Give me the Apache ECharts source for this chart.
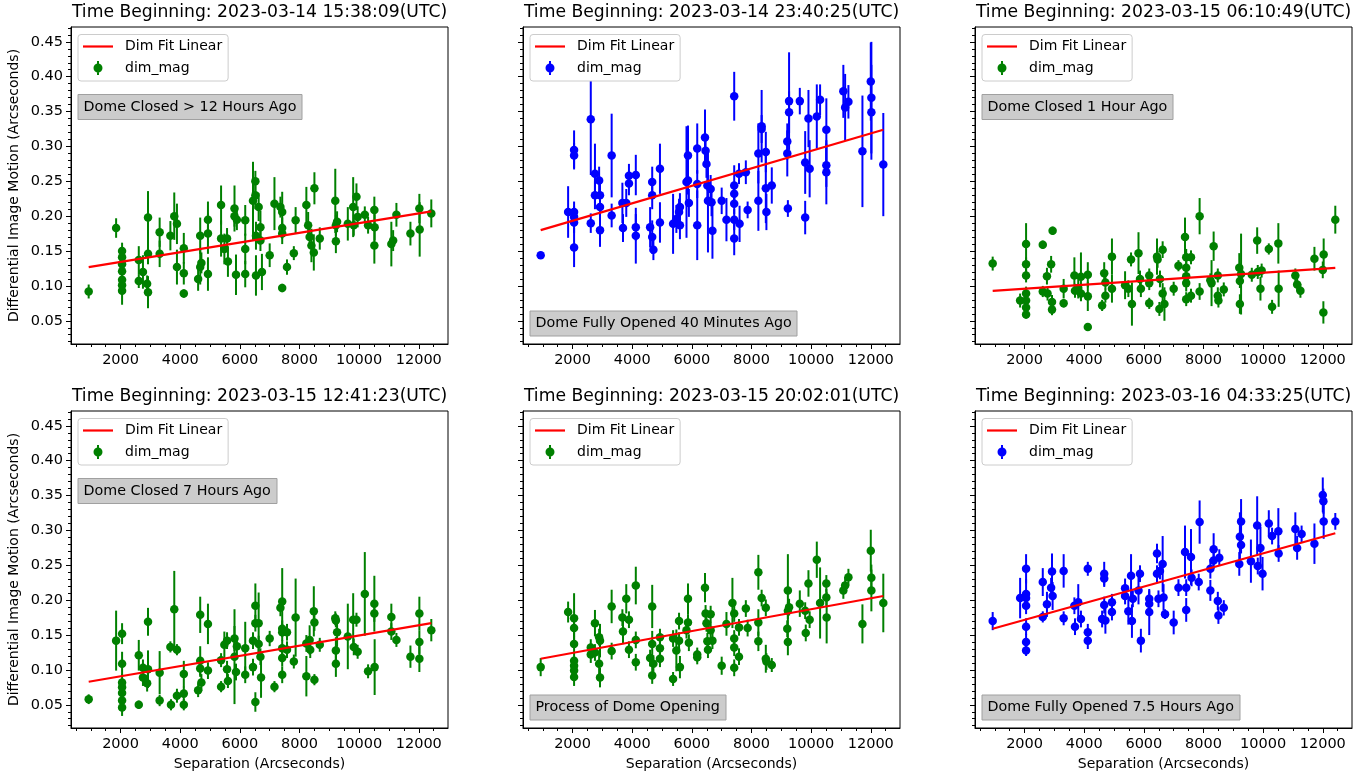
<!DOCTYPE html>
<html>
<head>
<meta charset="utf-8">
<title>Differential Image Motion</title>
<script src="https://cdn.jsdelivr.net/npm/echarts/dist/echarts.min.js"></script>
<style>
  html, body { margin: 0; padding: 0; background: #fff; }
  #main { width: 1370px; height: 776px; }
</style>
</head>
<body>
<div id="main"></div>
<script>
// each point: [separation (arcsec), dim (arcsec), error]
const panel1 = [[930,0.092,0.010],[1850,0.183,0.014],[2050,0.150,0.012],[2050,0.141,0.012],[2050,0.131,0.012],[2050,0.121,0.012],[2050,0.109,0.012],[2050,0.101,0.012],[2050,0.093,0.020],[2610,0.137,0.020],[2610,0.107,0.010],[2750,0.120,0.024],[2890,0.103,0.012],[2920,0.198,0.038],[2920,0.146,0.015],[2920,0.091,0.023],[3310,0.177,0.021],[3310,0.146,0.019],[3670,0.172,0.021],[3800,0.200,0.034],[3890,0.189,0.029],[3890,0.127,0.025],[4120,0.154,0.022],[4120,0.118,0.016],[4120,0.089,0.006],[4600,0.110,0.017],[4670,0.172,0.026],[4670,0.127,0.025],[4710,0.133,0.015],[4930,0.195,0.026],[4930,0.175,0.029],[4930,0.117,0.024],[5370,0.216,0.028],[5370,0.168,0.026],[5480,0.153,0.022],[5570,0.168,0.015],[5600,0.135,0.022],[5820,0.211,0.033],[5820,0.200,0.015],[5870,0.116,0.029],[5900,0.195,0.015],[6180,0.194,0.022],[6180,0.153,0.022],[6180,0.117,0.019],[6440,0.222,0.056],[6520,0.250,0.015],[6520,0.230,0.020],[6540,0.172,0.020],[6540,0.115,0.029],[6630,0.213,0.020],[6690,0.184,0.024],[6690,0.165,0.015],[6740,0.120,0.026],[7000,0.144,0.017],[7160,0.218,0.038],[7360,0.213,0.015],[7420,0.206,0.029],[7420,0.183,0.015],[7420,0.175,0.015],[7420,0.097,0.006],[7580,0.127,0.011],[7810,0.147,0.010],[7870,0.194,0.019],[8230,0.216,0.026],[8290,0.187,0.019],[8340,0.170,0.015],[8400,0.158,0.024],[8480,0.148,0.026],[8500,0.240,0.023],[8680,0.168,0.016],[9200,0.222,0.046],[9220,0.187,0.015],[9220,0.164,0.017],[9260,0.192,0.015],[9620,0.189,0.024],[9800,0.213,0.043],[9820,0.187,0.015],[9910,0.228,0.019],[9950,0.199,0.015],[10190,0.202,0.012],[10300,0.187,0.012],[10510,0.209,0.019],[10520,0.184,0.019],[10510,0.158,0.026],[11080,0.160,0.032],[11140,0.165,0.015],[11250,0.202,0.017],[11720,0.175,0.017],[12020,0.211,0.021],[12030,0.181,0.039],[12420,0.204,0.020]];
const panel2 = [[930,0.144,0.004],[1850,0.206,0.037],[2050,0.295,0.028],[2050,0.287,0.018],[2050,0.206,0.015],[2050,0.199,0.015],[2050,0.191,0.015],[2050,0.155,0.028],[2610,0.339,0.080],[2610,0.190,0.014],[2750,0.261,0.043],[2750,0.230,0.020],[2890,0.251,0.020],[2920,0.230,0.020],[2920,0.213,0.020],[2920,0.180,0.024],[3310,0.287,0.060],[3310,0.201,0.017],[3670,0.219,0.029],[3690,0.183,0.020],[3800,0.219,0.020],[3890,0.258,0.017],[3890,0.247,0.017],[4120,0.259,0.029],[4120,0.184,0.019],[4120,0.172,0.040],[4600,0.184,0.029],[4670,0.249,0.022],[4670,0.230,0.020],[4670,0.170,0.024],[4710,0.152,0.015],[4930,0.268,0.036],[4930,0.191,0.029],[5370,0.189,0.043],[5480,0.196,0.020],[5570,0.206,0.019],[5600,0.187,0.020],[5600,0.213,0.020],[5820,0.249,0.080],[5870,0.287,0.043],[5870,0.251,0.020],[5900,0.219,0.020],[6180,0.297,0.036],[6180,0.246,0.020],[6180,0.187,0.050],[6440,0.313,0.040],[6460,0.294,0.020],[6490,0.275,0.020],[6520,0.244,0.020],[6540,0.222,0.074],[6630,0.239,0.020],[6660,0.220,0.020],[6690,0.179,0.040],[7000,0.222,0.019],[7160,0.195,0.031],[7420,0.372,0.035],[7420,0.244,0.029],[7420,0.232,0.015],[7420,0.218,0.015],[7420,0.195,0.015],[7420,0.168,0.024],[7580,0.261,0.015],[7600,0.189,0.026],[7810,0.263,0.017],[7870,0.209,0.012],[8230,0.290,0.043],[8230,0.222,0.043],[8340,0.329,0.052],[8340,0.325,0.020],[8480,0.292,0.029],[8480,0.240,0.050],[8500,0.206,0.026],[8680,0.244,0.026],[9200,0.290,0.033],[9200,0.307,0.026],[9220,0.211,0.012],[9260,0.365,0.070],[9260,0.349,0.030],[9620,0.365,0.019],[9800,0.277,0.045],[9800,0.198,0.024],[9910,0.340,0.041],[9950,0.268,0.041],[10190,0.343,0.046],[10300,0.367,0.022],[10510,0.324,0.045],[10510,0.273,0.031],[10510,0.263,0.046],[11080,0.379,0.038],[11140,0.356,0.048],[11250,0.364,0.024],[11720,0.293,0.080],[12000,0.393,0.056],[12020,0.370,0.080],[12020,0.349,0.068],[12420,0.274,0.074]];
const panel3 = [[930,0.132,0.010],[1850,0.079,0.010],[2050,0.160,0.030],[2050,0.131,0.010],[2050,0.115,0.010],[2050,0.089,0.010],[2050,0.079,0.008],[2050,0.069,0.008],[2050,0.059,0.006],[2610,0.159,0.006],[2610,0.092,0.008],[2750,0.114,0.012],[2770,0.089,0.010],[2890,0.131,0.012],[2920,0.077,0.010],[2920,0.066,0.008],[2940,0.179,0.006],[3310,0.096,0.014],[3310,0.075,0.006],[3670,0.115,0.026],[3690,0.093,0.010],[3800,0.097,0.015],[3890,0.113,0.035],[3890,0.089,0.010],[4120,0.116,0.018],[4120,0.085,0.021],[4120,0.041,0.005],[4600,0.072,0.008],[4670,0.118,0.016],[4710,0.086,0.010],[4710,0.105,0.010],[4930,0.096,0.020],[4930,0.142,0.026],[5370,0.101,0.020],[5480,0.096,0.012],[5570,0.138,0.010],[5600,0.074,0.031],[5820,0.147,0.030],[5870,0.110,0.012],[5900,0.096,0.012],[6180,0.115,0.010],[6180,0.104,0.010],[6180,0.075,0.008],[6440,0.142,0.026],[6460,0.138,0.012],[6520,0.067,0.010],[6540,0.110,0.012],[6630,0.152,0.012],[6630,0.089,0.015],[6690,0.074,0.024],[7000,0.096,0.010],[7160,0.129,0.008],[7380,0.170,0.028],[7420,0.141,0.012],[7420,0.126,0.012],[7420,0.114,0.012],[7420,0.104,0.012],[7420,0.081,0.010],[7580,0.141,0.010],[7580,0.086,0.010],[7870,0.200,0.026],[7870,0.092,0.012],[8230,0.108,0.010],[8270,0.104,0.033],[8340,0.157,0.021],[8480,0.115,0.010],[8480,0.086,0.012],[8500,0.079,0.010],[8680,0.095,0.010],[9200,0.126,0.021],[9220,0.107,0.010],[9220,0.074,0.014],[9260,0.117,0.058],[9620,0.116,0.010],[9800,0.165,0.019],[9820,0.120,0.010],[9910,0.096,0.017],[9950,0.122,0.010],[10190,0.153,0.008],[10300,0.070,0.010],[10510,0.161,0.029],[10520,0.096,0.026],[11080,0.115,0.010],[11140,0.102,0.010],[11250,0.093,0.010],[11720,0.139,0.017],[12030,0.145,0.023],[12000,0.123,0.012],[12020,0.062,0.016],[12420,0.195,0.020]];
const panel4 = [[930,0.058,0.007],[1850,0.142,0.043],[2050,0.152,0.015],[2050,0.109,0.017],[2050,0.082,0.012],[2050,0.075,0.012],[2050,0.067,0.012],[2050,0.056,0.012],[2050,0.046,0.012],[2610,0.121,0.022],[2610,0.050,0.006],[2750,0.103,0.012],[2750,0.089,0.012],[2890,0.081,0.012],[2920,0.169,0.020],[2920,0.101,0.027],[3310,0.096,0.031],[3310,0.056,0.008],[3670,0.133,0.008],[3690,0.050,0.008],[3800,0.187,0.055],[3890,0.129,0.008],[3890,0.063,0.010],[4120,0.094,0.019],[4120,0.066,0.010],[4120,0.050,0.008],[4600,0.071,0.010],[4670,0.179,0.026],[4670,0.113,0.021],[4670,0.102,0.012],[4710,0.082,0.012],[4930,0.166,0.029],[4930,0.099,0.012],[5370,0.076,0.008],[5370,0.114,0.010],[5480,0.136,0.019],[5570,0.142,0.012],[5570,0.101,0.012],[5600,0.084,0.010],[5820,0.145,0.018],[5820,0.119,0.068],[5870,0.097,0.012],[5900,0.134,0.012],[6180,0.131,0.038],[6180,0.093,0.012],[6440,0.142,0.012],[6440,0.104,0.012],[6520,0.192,0.032],[6520,0.167,0.012],[6520,0.054,0.014],[6630,0.167,0.044],[6630,0.137,0.012],[6690,0.119,0.012],[6710,0.089,0.029],[7000,0.145,0.011],[7160,0.076,0.008],[7360,0.189,0.012],[7420,0.198,0.048],[7420,0.159,0.012],[7420,0.154,0.012],[7420,0.131,0.012],[7420,0.117,0.012],[7420,0.093,0.012],[7580,0.154,0.012],[7580,0.129,0.012],[7810,0.112,0.010],[7870,0.175,0.056],[8230,0.138,0.012],[8230,0.091,0.029],[8340,0.143,0.021],[8360,0.129,0.012],[8480,0.184,0.036],[8500,0.168,0.012],[8500,0.086,0.008],[8680,0.136,0.010],[9200,0.174,0.010],[9220,0.171,0.010],[9260,0.154,0.021],[9220,0.128,0.019],[9220,0.109,0.019],[9620,0.148,0.047],[9800,0.172,0.038],[9820,0.133,0.012],[9910,0.172,0.010],[9950,0.126,0.010],[10190,0.209,0.060],[10300,0.098,0.010],[10510,0.195,0.040],[10510,0.181,0.012],[10520,0.104,0.040],[11080,0.176,0.019],[11080,0.155,0.012],[11250,0.143,0.010],[11720,0.119,0.016],[12020,0.181,0.024],[12020,0.140,0.017],[12020,0.116,0.019],[12420,0.157,0.016]];
const panel5 = [[930,0.104,0.013],[1850,0.183,0.015],[2050,0.174,0.036],[2050,0.160,0.012],[2050,0.137,0.012],[2050,0.113,0.012],[2050,0.106,0.012],[2050,0.099,0.012],[2050,0.090,0.013],[2610,0.132,0.012],[2610,0.122,0.012],[2750,0.167,0.019],[2750,0.125,0.012],[2890,0.147,0.012],[2920,0.142,0.024],[2890,0.109,0.019],[2920,0.089,0.014],[3310,0.191,0.024],[3310,0.127,0.012],[3670,0.175,0.012],[3690,0.155,0.018],[3800,0.202,0.021],[3890,0.172,0.012],[3890,0.129,0.012],[4120,0.221,0.027],[4120,0.143,0.012],[4120,0.111,0.012],[4600,0.117,0.012],[4670,0.191,0.031],[4670,0.137,0.019],[4670,0.092,0.012],[4710,0.109,0.012],[4930,0.147,0.012],[4930,0.131,0.012],[4930,0.116,0.012],[5370,0.087,0.010],[5370,0.145,0.012],[5480,0.128,0.030],[5570,0.170,0.012],[5570,0.142,0.012],[5600,0.104,0.016],[5820,0.157,0.012],[5870,0.202,0.022],[5870,0.168,0.012],[5900,0.139,0.012],[6180,0.122,0.010],[6180,0.118,0.010],[6440,0.218,0.021],[6460,0.181,0.012],[6490,0.167,0.012],[6520,0.141,0.012],[6540,0.129,0.012],[6630,0.180,0.012],[6630,0.157,0.012],[6690,0.142,0.012],[7000,0.106,0.013],[7160,0.166,0.017],[7360,0.196,0.036],[7420,0.181,0.012],[7420,0.145,0.012],[7420,0.132,0.012],[7420,0.103,0.012],[7580,0.119,0.012],[7580,0.161,0.012],[7810,0.188,0.012],[7870,0.160,0.012],[8230,0.240,0.025],[8230,0.168,0.019],[8230,0.141,0.014],[8340,0.203,0.012],[8480,0.189,0.012],[8480,0.116,0.020],[8500,0.112,0.012],[8680,0.107,0.010],[9200,0.159,0.012],[9220,0.214,0.052],[9220,0.185,0.012],[9220,0.140,0.019],[9260,0.190,0.012],[9620,0.195,0.019],[9800,0.185,0.012],[9820,0.153,0.012],[9910,0.224,0.019],[9950,0.172,0.012],[10190,0.258,0.026],[10300,0.196,0.051],[10510,0.224,0.012],[10510,0.204,0.012],[10520,0.175,0.037],[11080,0.214,0.012],[11140,0.221,0.012],[11250,0.233,0.012],[11720,0.166,0.028],[12000,0.271,0.030],[12020,0.232,0.019],[12020,0.214,0.030],[12420,0.196,0.042]];
const panel6 = [[930,0.170,0.013],[1850,0.203,0.029],[2050,0.245,0.021],[2050,0.209,0.021],[2050,0.203,0.012],[2050,0.192,0.012],[2050,0.162,0.012],[2050,0.140,0.012],[2050,0.128,0.008],[2610,0.226,0.020],[2610,0.176,0.008],[2750,0.194,0.018],[2890,0.218,0.014],[2920,0.241,0.026],[2940,0.206,0.020],[3310,0.242,0.024],[3310,0.174,0.010],[3670,0.192,0.012],[3690,0.162,0.012],[3800,0.197,0.026],[3890,0.173,0.012],[4120,0.245,0.010],[4120,0.154,0.012],[4120,0.142,0.012],[4600,0.173,0.012],[4670,0.238,0.017],[4670,0.231,0.012],[4670,0.193,0.012],[4710,0.171,0.019],[4930,0.197,0.012],[4930,0.183,0.012],[5370,0.217,0.014],[5370,0.206,0.012],[5480,0.184,0.019],[5570,0.235,0.031],[5600,0.170,0.024],[5630,0.202,0.012],[5820,0.214,0.020],[5870,0.238,0.012],[5900,0.142,0.017],[6180,0.202,0.012],[6180,0.195,0.012],[6180,0.183,0.033],[6440,0.267,0.014],[6440,0.238,0.012],[6490,0.202,0.012],[6540,0.242,0.012],[6630,0.252,0.040],[6660,0.204,0.019],[6710,0.180,0.007],[7000,0.168,0.017],[7160,0.218,0.012],[7380,0.269,0.038],[7420,0.218,0.012],[7420,0.186,0.017],[7580,0.262,0.040],[7600,0.232,0.012],[7840,0.226,0.012],[7870,0.312,0.031],[8230,0.245,0.014],[8230,0.214,0.015],[8340,0.273,0.023],[8340,0.257,0.012],[8480,0.199,0.013],[8500,0.178,0.012],[8530,0.261,0.012],[8680,0.189,0.011],[9200,0.252,0.017],[9220,0.291,0.035],[9260,0.313,0.032],[9260,0.279,0.012],[9590,0.256,0.031],[9800,0.307,0.042],[9820,0.249,0.012],[9910,0.275,0.030],[9980,0.238,0.024],[10190,0.310,0.019],[10300,0.292,0.012],[10510,0.299,0.033],[10520,0.267,0.012],[11080,0.302,0.024],[11140,0.275,0.017],[11290,0.295,0.012],[11720,0.281,0.029],[12000,0.351,0.025],[12020,0.342,0.018],[12030,0.313,0.025],[12420,0.313,0.012]];

// linear fit endpoints
const fit1 = [[930, 0.127], [12420, 0.207]];
const fit2 = [[930, 0.180], [12420, 0.324]];
const fit3 = [[930, 0.093], [12420, 0.126]];
const fit4 = [[930, 0.083], [12420, 0.167]];
const fit5 = [[930, 0.116], [12420, 0.206]];
const fit6 = [[930, 0.159], [12420, 0.296]];

const titles = [
  'Time Beginning: 2023-03-14 15:38:09(UTC)',
  'Time Beginning: 2023-03-14 23:40:25(UTC)',
  'Time Beginning: 2023-03-15 06:10:49(UTC)',
  'Time Beginning: 2023-03-15 12:41:23(UTC)',
  'Time Beginning: 2023-03-15 20:02:01(UTC)',
  'Time Beginning: 2023-03-16 04:33:25(UTC)'
];
const notes = [
  'Dome Closed > 12 Hours Ago',
  'Dome Fully Opened 40 Minutes Ago',
  'Dome Closed 1 Hour Ago',
  'Dome Closed 7 Hours Ago',
  'Process of Dome Opening',
  'Dome Fully Opened 7.5 Hours Ago'
];
const pointColors = ['green', 'blue', 'green', 'green', 'green', 'blue'];

const xMajorTicks = [2000, 4000, 6000, 8000, 10000, 12000];
const yMajorTicks = [0.05, 0.10, 0.15, 0.20, 0.25, 0.30, 0.35, 0.40, 0.45];
const xMinorTicks = [];
for (let v = 500; v <= 12500; v += 500) xMinorTicks.push(v);
const yMinorTicks = [];
for (let k = 2; k <= 47; k++) yMinorTicks.push(k / 100);

const panels = [panel1, panel2, panel3, panel4, panel5, panel6];
const fits = [fit1, fit2, fit3, fit4, fit5, fit6];

// layout
const colLeft = [71, 523, 975];
const rowTop = [27, 411];
const gridW = 377, gridH = 317;
const xMin = 337, xMax = 12980;
const yMin = 0.0167, yMax = 0.4713;
const noteAtBottom = [false, true, false, false, true, true];

const lineIcon = 'path://M0,0H30V2.2H0Z';
const dotIcon = 'path://M3.5,0H5.5V14H3.5Z M9,7A4.5,4.5 0 1,1 0,7A4.5,4.5 0 1,1 9,7Z';

let chartDom = document.getElementById('main');
let myChart = echarts.init(chartDom);

let grid = [], xAxis = [], yAxis = [], series = [], legend = [], title = [];

panels.forEach(function (pts, i) {
  const col = i % 3, row = Math.floor(i / 3);
  const left = colLeft[col], top = rowTop[row];
  const color = pointColors[i];

  grid.push({
    left: left, top: top, width: gridW, height: gridH,
    show: true, borderColor: '#000', borderWidth: 1
  });

  xAxis.push({
    type: 'value', gridIndex: i, min: xMin, max: xMax, position: 'bottom',
    axisLine: { show: true, lineStyle: { color: '#000', width: 1 } },
    axisTick: { show: true, customValues: xMajorTicks, length: 5, lineStyle: { color: '#000' } },
    axisLabel: {
      show: true, customValues: xMajorTicks, fontSize: 14.5, color: '#000', margin: 9,
      formatter: function (v) { return String(v); }
    },
    splitLine: { show: false },
    name: row === 1 ? 'Separation (Arcseconds)' : '',
    nameLocation: 'middle', nameGap: 29,
    nameTextStyle: { fontSize: 14, color: '#000' }
  });
  xAxis.push({
    type: 'value', gridIndex: i, min: xMin, max: xMax, position: 'bottom',
    axisLine: { show: false },
    axisTick: { show: true, customValues: xMinorTicks, length: 3, lineStyle: { color: '#000' } },
    axisLabel: { show: false },
    splitLine: { show: false }
  });

  yAxis.push({
    type: 'value', gridIndex: i, min: yMin, max: yMax, position: 'left',
    axisLine: { show: true, lineStyle: { color: '#000', width: 1 } },
    axisTick: { show: true, customValues: yMajorTicks, length: 5, lineStyle: { color: '#000' } },
    axisLabel: {
      show: col === 0, customValues: yMajorTicks, fontSize: 14.5, color: '#000', margin: 8,
      formatter: function (v) { return v.toFixed(2); }
    },
    splitLine: { show: false },
    name: col === 0 ? 'Differential Image Motion (Arcseconds)' : '',
    nameLocation: 'middle', nameGap: 50,
    nameTextStyle: { fontSize: 14, color: '#000' }
  });
  yAxis.push({
    type: 'value', gridIndex: i, min: yMin, max: yMax, position: 'left',
    axisLine: { show: false },
    axisTick: { show: true, customValues: yMinorTicks, length: 3, lineStyle: { color: '#000' } },
    axisLabel: { show: false },
    splitLine: { show: false }
  });

  // error bars
  series.push({
    type: 'custom', name: 'dim_mag',
    xAxisIndex: 2 * i, yAxisIndex: 2 * i,
    data: pts, encode: { x: 0, y: 1 }, z: 2, silent: true,
    renderItem: function (params, api) {
      const x = api.value(0), y = api.value(1), e = api.value(2);
      const p1 = api.coord([x, y + e]);
      const p2 = api.coord([x, y - e]);
      return {
        type: 'line',
        shape: { x1: p1[0], y1: p1[1], x2: p2[0], y2: p2[1] },
        style: { stroke: color, lineWidth: 2 }
      };
    }
  });
  series.push({
    type: 'scatter', name: 'dim_mag',
    xAxisIndex: 2 * i, yAxisIndex: 2 * i,
    data: pts.map(function (p) { return [p[0], p[1]]; }),
    symbolSize: 8.5, itemStyle: { color: color, opacity: 1 }, z: 3, silent: true
  });
  series.push({
    type: 'line', name: 'Dim Fit Linear',
    xAxisIndex: 2 * i, yAxisIndex: 2 * i,
    data: fits[i], symbol: 'none',
    lineStyle: { color: '#ff0000', width: 2.2 }, itemStyle: { color: '#ff0000' },
    z: 4, silent: true
  });

  legend.push({
    left: left + 7, top: top + 7.5, orient: 'vertical',
    backgroundColor: '#fff', borderColor: '#cccccc', borderWidth: 1, borderRadius: 3,
    padding: [5, 6, 6, 5], itemGap: 7.5, itemWidth: 30, itemHeight: 14,
    selectedMode: false,
    textStyle: { fontSize: 14, color: '#000', padding: [0, 0, 0, 7] },
    data: [
      { name: 'Dim Fit Linear', icon: lineIcon, itemStyle: { color: '#ff0000', borderWidth: 0 } },
      { name: 'dim_mag', icon: dotIcon, itemStyle: { color: color, borderWidth: 0 } }
    ]
  });

  title.push({
    text: titles[i], left: left + gridW / 2, textAlign: 'center',
    top: top - 24.5, padding: 0,
    textStyle: { fontSize: 17.2, fontWeight: 'normal', color: '#000', lineHeight: 21 }
  });
  title.push({
    text: notes[i], left: left + 6.5,
    top: noteAtBottom[i] ? top + 283.5 : top + 67,
    backgroundColor: '#cccccc', borderColor: '#a0a0a0', borderWidth: 1,
    padding: [5, 6, 5, 6],
    textStyle: { fontSize: 14.3, fontWeight: 'normal', color: '#000', lineHeight: 16 }
  });
});

let option = {
  animation: false,
  backgroundColor: '#fff',
  textStyle: { fontFamily: 'DejaVu Sans' },
  title: title,
  legend: legend,
  grid: grid,
  xAxis: xAxis,
  yAxis: yAxis,
  series: series
};

option && myChart.setOption(option);
</script>
</body>
</html>
